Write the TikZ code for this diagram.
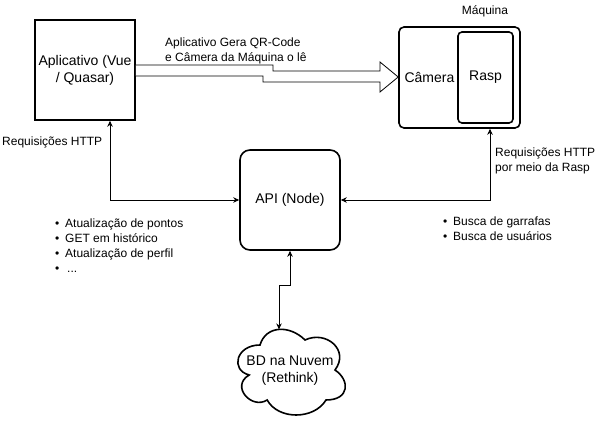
\documentclass[tikz,border=0pt]{standalone}
\usepackage{fontspec}
\setmainfont{Liberation Sans}
\usetikzlibrary{arrows.meta,calc}
\begin{document}
\begin{tikzpicture}[x=1pt,y=-1pt,
  box/.style={draw=black,line width=1.6pt,inner sep=0pt},
  big/.style={font=\fontsize{14}{17}\selectfont},
  small/.style={font=\fontsize{12}{15}\selectfont,inner sep=0pt},
  conn/.style={line width=0.8pt,{Stealth[length=6pt,width=5.5pt]}-{Stealth[length=6pt,width=5.5pt]}},
  bl/.style={},
]
\useasboundingbox[fill=white] (0,0) rectangle (606,422);
% boxes
\node[box,minimum width=100pt,minimum height=100pt,big,align=center] (app) at (85,70) {Aplicativo (Vue\\/ Quasar)};
\node[box,rounded corners=5pt,minimum width=121pt,minimum height=101pt] (maq) at (459.5,77.5) {};
\node[box,rounded corners=4pt,minimum width=55pt,minimum height=91pt,big] (rasp) at (485.5,77.5) {Rasp};
\node[big,inner sep=0pt] (cam) at (429.5,77) {Câmera};
\node[small] (maqlbl) at (485,11) {Máquina};
\node[box,rounded corners=10pt,minimum width=100pt,minimum height=100pt,big] (api) at (290,200) {API (Node)};
% block arrow
\draw[line width=0.8pt,fill=white,line join=miter]
  ($(app.east)+(0,-5)$) -- (273,65) -- (273,71) -- (380,71) -- (380,62)
  -- ($(maq.west)+(0,-0.5)$) -- (380,92) -- (380,82) -- (263,82) -- (263,76)
  -- ($(app.east)+(0,6)$);
% cloud
\draw[line width=1.6pt,fill=white] (260,345)
  .. controls (236,345) and (230,370) .. (249.2,375)
  .. controls (230,386) and (251.6,410) .. (267.2,400)
  .. controls (278,420) and (314,420) .. (326,400)
  .. controls (350,400) and (350,380) .. (335,370)
  .. controls (350,350) and (326,330) .. (305,340)
  .. controls (290,325) and (266,325) .. (260,345) -- cycle;
\node[big,align=center,inner sep=0pt] (db) at (290,371) {BD na Nuvem\\(Rethink)};
\coordinate (dbtop) at (279,329.4);
% connectors
\draw[conn] ([xshift=25pt]app.south) |- (api.west);
\draw[conn] ([xshift=30.5pt]maq.south) |- (api.east);
\draw[conn] (api.south) -- ++(0,35) -| (dbtop);
% labels
\node[small,anchor=west] (req1) at (2,142) {Requisições HTTP};
\node[small,align=left,anchor=west] (qr) at (165,50.5) {Aplicativo Gera QR-Code\\e Câmera da Máquina o lê};
\node[small,align=left,anchor=west] (req2) at (495,160.5) {Requisições HTTP\\por meio da Rasp};
\node[small,align=left,anchor=west] (listL) at (55,245.5) {\makebox[10pt][l]{•}Atualização de pontos\\\makebox[10pt][l]{•}GET em histórico\\\makebox[10pt][l]{•}Atualização de perfil\\\makebox[10pt][l]{•}\hspace{2pt}...};
\node[small,align=left,anchor=west] (listR) at (443,229) {\makebox[10pt][l]{•}Busca de garrafas\\\makebox[10pt][l]{•}Busca de usuários};
\end{tikzpicture}
\end{document}
